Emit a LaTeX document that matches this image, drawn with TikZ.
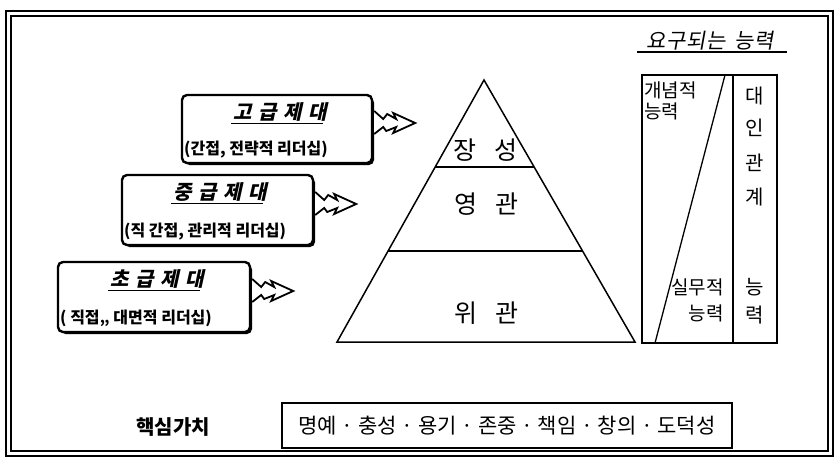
\documentclass[tikz,border=0pt]{standalone}
\usepackage{fontspec}
\setmainfont{Noto Sans CJK KR}
\newfontfamily\krtitle[FakeSlant=0.22,LetterSpace=33]{Noto Sans CJK KR}
\newfontfamily\krhead[FakeSlant=0.18,LetterSpace=4]{Noto Sans CJK KR}
\usetikzlibrary{calc}
\begin{document}
\begin{tikzpicture}[x=1pt,y=-1pt]
\useasboundingbox (0,0) rectangle (834,458);
\tikzset{
  frameline/.style={draw, line width=1.8pt},
  levelbox/.style={draw, line width=2.4pt, rounded corners=5pt, fill=white, inner sep=0pt},
  boxshadow/.style={fill=black, rounded corners=5pt},
  lvtitle/.style={inner sep=0pt, font=\fontsize{20}{20}\selectfont\krtitle\bfseries},
  lvsub/.style={inner sep=0pt, anchor=west, font=\fontsize{16}{16}\selectfont\bfseries},
  zig/.style={draw, line width=1.8pt, fill=white, line join=miter},
  pyr/.style={draw, line width=1.5pt, line join=miter},
  pyrline/.style={draw, line width=2pt},
  pyrtext/.style={inner sep=0pt, font=\fontsize{25}{25}\selectfont},
  abil/.style={inner sep=0pt, font=\fontsize{19}{19}\selectfont},
  vchar/.style={inner sep=0pt, font=\fontsize{20}{20}\selectfont},
  ulined/.style={line width=1.4pt}
}
% double frame
\draw[frameline] (6,11) rectangle (833,456);
\draw[line width=1.5pt] (11,16) rectangle (828,451);

% level box shadows (heavier right and bottom edges)
\fill[boxshadow] (184.5,97.5) rectangle (374,165);
\fill[boxshadow] (124.5,177.5) rectangle (315,247);
\fill[boxshadow] (60.5,264.5) rectangle (252,334);
% level boxes
\node[levelbox, minimum width=190pt, minimum height=68pt] (b1) at (277,129) {};
\node[levelbox, minimum width=191pt, minimum height=70pt] (b2) at (217.5,210) {};
\node[levelbox, minimum width=192pt, minimum height=70pt] (b3) at (154,297) {};

\node[lvtitle] (t1) at (280,112) {고급제대};
\node[lvtitle] (t2) at (220,192) {중급제대};
\node[lvtitle] (t3) at (157,279) {초급제대};
\foreach \t in {t1,t2,t3}{
  \draw[ulined] ($(\t.south west)+(-2,2)$) -- ($(\t.south east)+(-4,2)$);
}
\node[lvsub] (s1) at (184,150) {(간접, 전략적 리더십)};
\node[lvsub] (s2) at (124,232) {(직 간접, 관리적 리더십)};
\node[lvsub] (s3) at (60,318) {( 직접„ 대면적 리더십)};

% zigzag arrows
\foreach \b in {b1,b2,b3}{
  \draw[zig] ($(\b.east)+(1,-18)$) -- ++(9,8) -- ++(4,-5) -- ++(9,5) -- ++(-3,-6)
    -- ++(22,10) coordinate (\b tip) -- ++(-22,10) -- ++(3,-6) -- ++(-10,4) -- ++(-3,-4) -- ++(-9,7);
}

% pyramid
\coordinate (apex) at (484,80);
\coordinate (bl) at (337,342);
\coordinate (br) at (635,342);
\draw[pyr] (apex) -- (bl) -- (br) -- cycle;
\draw[pyrline] ($(apex)!0.332!(bl)$) coordinate (l1a) -- ($(apex)!0.332!(br)$) coordinate (l1b);
\draw[pyrline] ($(apex)!0.653!(bl)$) coordinate (l2a) -- ($(apex)!0.653!(br)$) coordinate (l2b);
\node[pyrtext] (p1) at (485,150) {장\hspace{18pt}성};
\node[pyrtext] (p2) at (486,204) {영\hspace{18pt}관};
\node[pyrtext] (p3) at (486,313) {위\hspace{18pt}관};

% required abilities
\node[inner sep=0pt, font=\fontsize{21}{21}\selectfont\krhead] (rt) at (710,41) {요구되는\hspace{8pt}능력};
\draw[ulined] (637,52) -- (787,52);
\draw[line width=1.3pt] (642,75) rectangle (777,343);
\draw[line width=1.3pt] (733,75) -- (733,343);
\draw[line width=1.3pt] (725,75) -- (655,343);
\node[abil, anchor=west] (c1) at (644,90) {개념적};
\node[abil, anchor=west] (c2) at (644,111) {능력};
\node[abil, anchor=east] (c3) at (724,287) {실무적};
\node[abil, anchor=east] (c4) at (724,313) {능력};
\foreach \ch/\yy in {대/96,인/128,관/163,계/197,능/287,력/315}{
  \node[vchar] at (755,\yy) {\ch};
}

% core values
\node[inner sep=0pt, font=\fontsize{20}{20}\selectfont\bfseries] (kv) at (173,427) {핵심가치};
\node[draw, line width=1.3pt, minimum width=450pt, minimum height=45pt, inner sep=0pt,
  font=\fontsize{21}{21}\selectfont] (vals) at (507,425.5)
  {명예\ ·\ 충성\ ·\ 용기\ ·\ 존중\ ·\ 책임\ ·\ 창의\ ·\ 도덕성};
\end{tikzpicture}
\end{document}
